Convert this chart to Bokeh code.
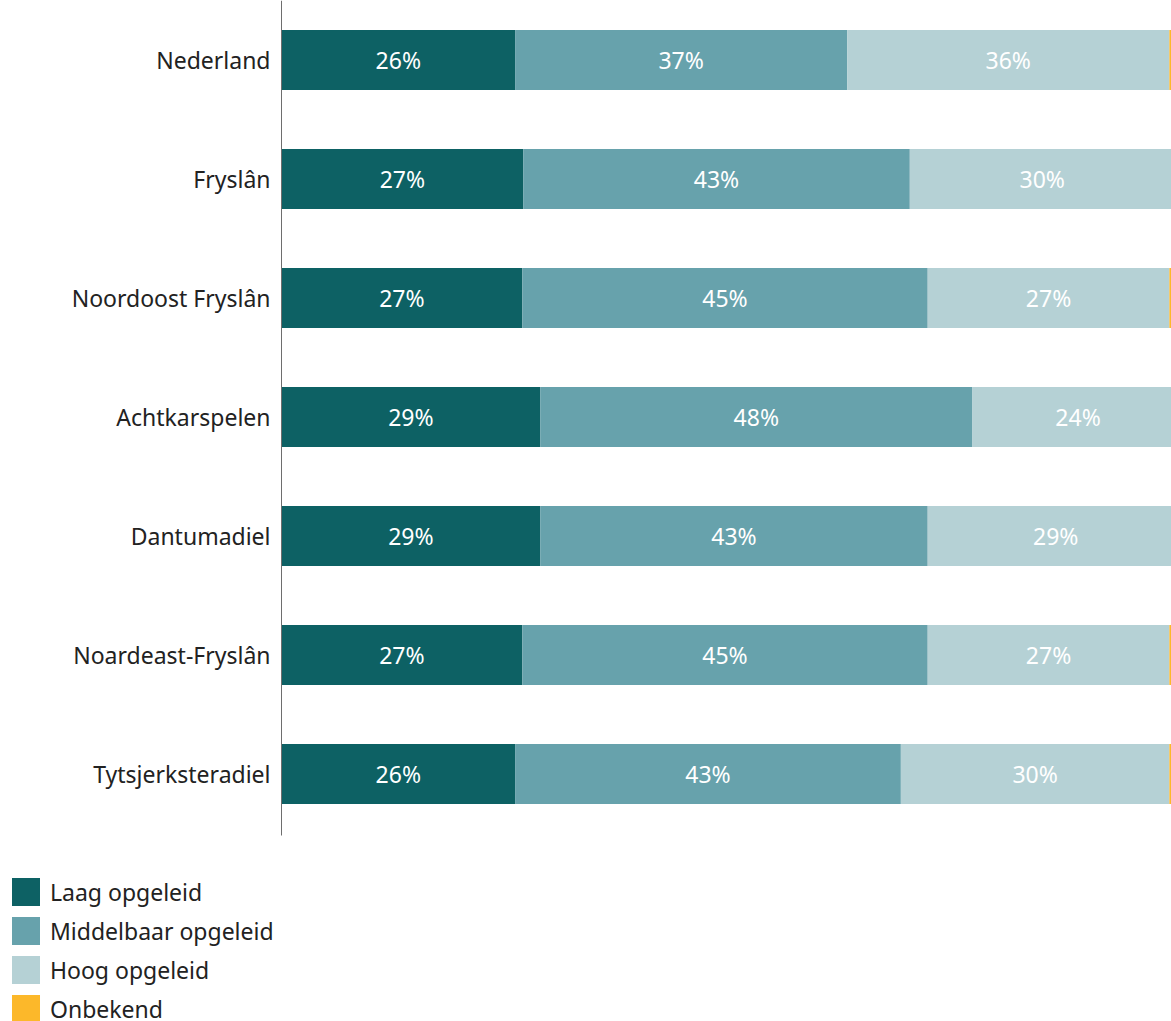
from bokeh.plotting import figure
from bokeh.models import ColumnDataSource, Range1d, FixedTicker, Legend, LegendItem, LinearAxis
from bokeh.embed import file_html
from bokeh.resources import INLINE
from bokeh.core.properties import value

regions = ["Nederland", "Fryslân", "Noordoost Fryslân", "Achtkarspelen",
           "Dantumadiel", "Noardeast-Fryslân", "Tytsjerksteradiel"]
laag = [26.1, 27.0, 26.9, 28.9, 28.9, 26.9, 26.1]
middelbaar = [37.1, 43.2, 45.3, 48.3, 43.3, 45.3, 43.1]
hoog = [36.0, 29.6, 27.0, 23.6, 28.6, 27.0, 30.0]
onbekend = [0.8, 0.2, 0.8, 0.0, 0.2, 0.8, 0.8]

series = ["Laag opgeleid", "Middelbaar opgeleid", "Hoog opgeleid", "Onbekend"]
keys = ["laag", "middelbaar", "hoog", "onbekend"]
colors = ["#0d6164", "#67a2ac", "#b5d1d5", "#fcb82a"]

FONT = "Noto Sans"
FS = "23px"

ypos = list(range(len(regions)))
src = ColumnDataSource(dict(y=ypos, laag=laag, middelbaar=middelbaar, hoog=hoog, onbekend=onbekend))

p = figure(width=1171, height=1021, x_range=Range1d(-31.40, 99.44), y_range=Range1d(8.08, -0.5),
           output_backend="svg", toolbar_location=None, x_axis_location=None,
           y_axis_location=None, min_border=0)
p.outline_line_color = None
p.grid.visible = False

rs = p.hbar_stack(keys, y="y", height=0.505, color=colors, line_width=0, source=src)

# segment labels
lx, ly, lt = [], [], []
for i in ypos:
    start = 0.0
    for vals in (laag, middelbaar, hoog):
        v = vals[i]
        lx.append(start + v / 2)
        ly.append(i)
        lt.append(f"{round(v)}%")
        start += v
p.text(x=lx, y=ly, text=lt, text_align="center", text_baseline="middle",
       text_color="white", text_font=value(FONT), text_font_size=FS)

ax = LinearAxis(fixed_location=0, ticker=FixedTicker(ticks=ypos),
                bounds=(-0.5, len(regions) - 0.483))
ax.major_label_overrides = {i: r for i, r in enumerate(regions)}
ax.major_tick_line_color = None
ax.minor_tick_line_color = None
ax.axis_line_color = "#6e6e6e"
ax.axis_line_width = 1
ax.major_label_text_font = FONT
ax.major_label_text_font_size = FS
ax.major_label_text_color = "#222222"
ax.major_label_standoff = 5
p.add_layout(ax, "left")

items = [LegendItem(label=s, renderers=[r]) for s, r in zip(series, rs)]
leg = Legend(items=items, location=(8, -5), orientation="vertical",
             glyph_width=35, glyph_height=35, label_height=35, spacing=4,
             padding=0, margin=0, border_line_color=None, background_fill_alpha=0,
             label_text_font=FONT, label_text_font_size=FS,
             label_text_color="#222222", label_standoff=7)
p.add_layout(leg)

open("out.html", "w").write(file_html(p, INLINE))
